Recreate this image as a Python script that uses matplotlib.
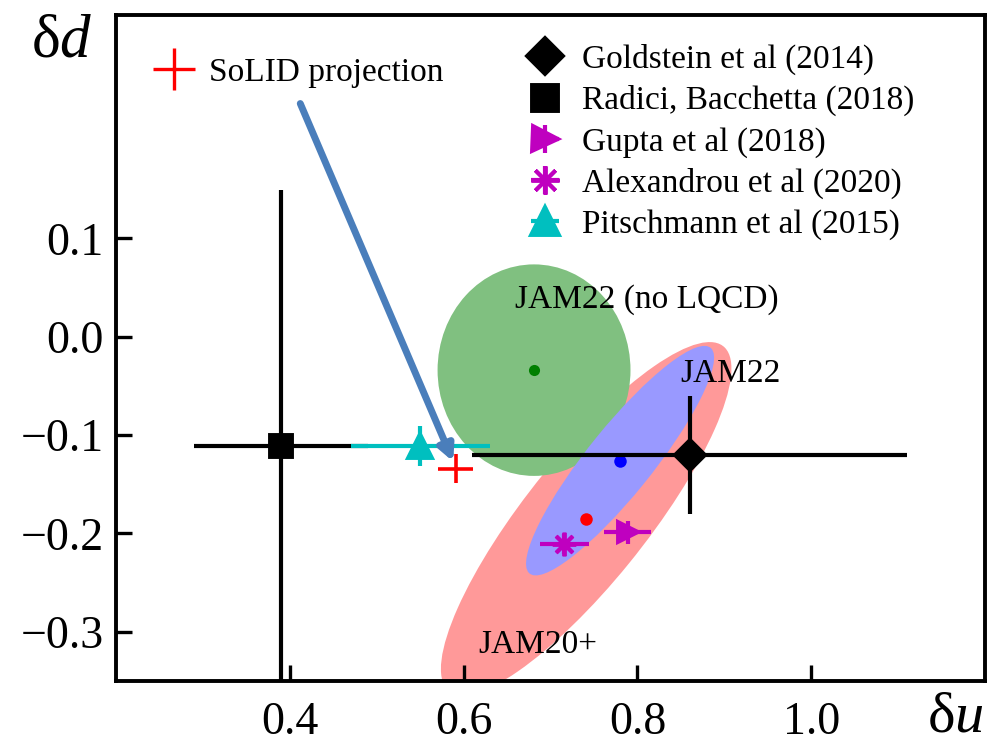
import numpy as np
import matplotlib.pyplot as plt
from matplotlib.patches import Ellipse
from matplotlib.lines import Line2D
from matplotlib.legend_handler import HandlerErrorbar
from matplotlib.container import ErrorbarContainer

plt.rcParams['font.family'] = ['Liberation Serif', 'DejaVu Serif']
plt.rcParams['mathtext.fontset'] = 'custom'
plt.rcParams['mathtext.rm'] = 'Liberation Serif'
plt.rcParams['mathtext.it'] = 'Liberation Serif:italic'

# --- data ---
# other extractions: delta u, delta d and their errors
ext_names = ["Goldstein et al (2014)", "Radici, Bacchetta (2018)", "Gupta et al (2018)",
             "Alexandrou et al (2020)", "Pitschmann et al (2015)"]
ext_du = [0.86, 0.39, 0.789, 0.716, 0.55]
ext_dd = [-0.12, -0.111, -0.199, -0.211, -0.111]
ext_du_err = [0.25, 0.10, 0.027, 0.028, 0.08]
ext_dd_err = [0.06, 0.26, 0.012, 0.010, 0.02]

# JAM fits: central values and 1-sigma ellipses (semi-axes, tilt in degrees)
jam_names = ["JAM20+", "JAM22 (no LQCD)", "JAM22"]
jam_du = [0.741, 0.681, 0.780]
jam_dd = [-0.185, -0.034, -0.126]
jam_semi_a = [0.236, 0.111, 0.155]
jam_semi_b = [0.067, 0.1075, 0.036]
jam_tilt = [47.4, 0.0, 47.4]

# SoLID projection
solid_du, solid_dd = 0.591, -0.134
solid_du_err, solid_dd_err = 0.02, 0.015

# --- styles ---
ext_colors = ['k', 'k', 'm', 'm', 'c']
ext_markers = ['D', 's', '>', (8, 2, 0), '^']
ext_msize = [15, 16, 15, 17, 17]
jam_fill = ['#ff9999', '#80c080', '#9999ff']
jam_dot = ['r', 'g', 'b']
jam_dot_size = [9, 8, 9]

fig = plt.figure(figsize=(9.97, 7.46), dpi=100)
ax = fig.add_axes([0.1164, 0.0871, 0.8716, 0.8928])

for i in range(3):
    ell = Ellipse((jam_du[i], jam_dd[i]), 2 * jam_semi_a[i], 2 * jam_semi_b[i],
                  angle=jam_tilt[i], facecolor=jam_fill[i], edgecolor='none', zorder=1 + i)
    ax.add_patch(ell)
    ax.plot(jam_du[i], jam_dd[i], 'o', color=jam_dot[i], ms=jam_dot_size[i], mec='none', zorder=4)

handles = []
for i in range(len(ext_names)):
    h = ax.errorbar(ext_du[i], ext_dd[i], xerr=ext_du_err[i], yerr=ext_dd_err[i],
                    marker=ext_markers[i], ms=ext_msize[i],
                    color=ext_colors[i], mec=ext_colors[i], mew=2.8, elinewidth=3,
                    capsize=0, ls='none', zorder=5, label=ext_names[i])
    handles.append(h)

ax.errorbar(solid_du, solid_dd, xerr=solid_du_err, yerr=solid_dd_err, fmt='none',
            ecolor='r', elinewidth=2.6, capsize=0, zorder=6)

# arrow from the SoLID label to the projected point
ax.annotate('', xy=(solid_du - 0.003, solid_dd + 0.007), xytext=(0.412, 0.237),
            arrowprops=dict(arrowstyle='-|>,head_length=0.9,head_width=0.45',
                            color='#4a7ebb', lw=5, shrinkA=0, shrinkB=0), zorder=7)

# fit labels
ax.text(0.659, 0.038, jam_names[1], fontsize=24, ha='left', va='center', zorder=8)
ax.text(0.849, -0.038, jam_names[2], fontsize=24, ha='left', va='center', zorder=8)
ax.text(0.617, -0.313, jam_names[0], fontsize=24, ha='left', va='center', zorder=8)

leg = ax.legend(handles=handles, loc='upper left', bbox_to_anchor=(0.467, 0.967),
                frameon=False, fontsize=24, handlelength=1.0, handletextpad=0.6,
                labelspacing=0.31, borderpad=0.2, borderaxespad=0, markerscale=1.2,
                handler_map={ErrorbarContainer: HandlerErrorbar(xerr_size=0.42)})
ax.add_artist(leg)

solid_handle = Line2D([], [], ls='none', marker='+', ms=30, mew=2.4, color='r')
ax.legend(handles=[solid_handle], labels=['SoLID projection'], loc='upper left',
          bbox_to_anchor=(0.040, 0.946), frameon=False, fontsize=24, handlelength=1.0,
          handletextpad=0.55, borderpad=0.2, borderaxespad=0)

ax.set_xlim(0.2, 1.2)
ax.set_ylim(-0.35, 0.327)
ax.set_xticks([0.4, 0.6, 0.8, 1.0])
ax.set_yticks([0.1, 0.0, -0.1, -0.2, -0.3])
ax.xaxis.set_major_formatter(plt.FormatStrFormatter('%.1f'))
ax.yaxis.set_major_formatter(plt.FuncFormatter(lambda v, p: ('%.1f' % v).replace('-', '\u2212')))
ax.tick_params(direction='in', length=11.5, width=2.4, labelsize=33)
ax.tick_params(axis='x', pad=15)
ax.tick_params(axis='y', pad=9)
for s in ax.spines.values():
    s.set_linewidth(2.8)

fig.text(62 / 997, 1 - 42 / 746, 'δ$d$', fontsize=44, ha='center', va='center')
fig.text(955 / 997, 1 - 718 / 746, 'δ$u$', fontsize=42, ha='center', va='center')

fig.savefig('out.png', dpi=100)
